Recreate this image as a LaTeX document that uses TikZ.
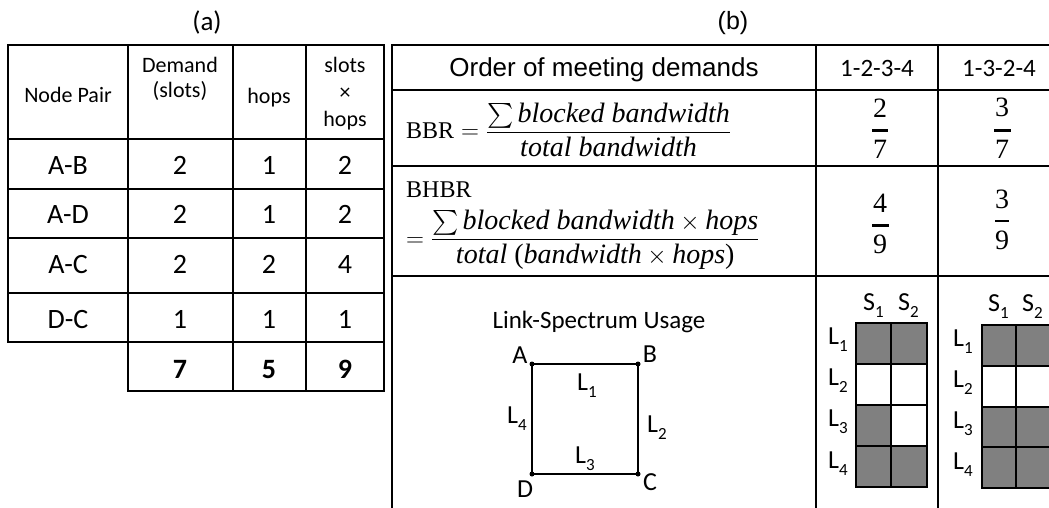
\documentclass[tikz,border=0pt]{standalone}
\usepackage{amsmath}
\usepackage{fontspec}
\setmainfont{Carlito}
\newfontfamily\arialfont{Liberation Sans}
\newfontfamily\rmser{Liberation Serif}
\newcommand\fsz[2]{\fontsize{#1}{#2}\selectfont}
\newcommand\lsub[1]{\raisebox{-0.28em}{\fsz{17}{17}#1}}
\newcommand\bw[1]{\text{\rmser\itshape #1}}
\newcommand\up[1]{\text{\rmser #1}}
\definecolor{cellgray}{RGB}{128,128,128}
\begin{document}
\begin{tikzpicture}[x=1pt,y=-1pt,
  rule/.style={line width=1.6pt, line cap=rect},
  txt/.style={inner sep=0, anchor=base},
  hdr/.style={txt, font=\fsz{22}{26}},
  dat/.style={txt, font=\fsz{28}{33}},
  tot/.style={txt, font=\fsz{28}{33}\bfseries},
  ttl/.style={txt, font=\fsz{27}{32}},
  mth/.style={inner sep=0, anchor=base west, font=\fsz{28}{33}},
  digit/.style={txt, font=\fsz{28}{33}\rmser},
  fbar/.style={line width=3pt},
  fbarthin/.style={line width=1.5pt},
  lbl/.style={txt, font=\fsz{26}{30}},
  lblw/.style={inner sep=0, anchor=base west, font=\fsz{26}{30}},
  cellbox/.style={draw, line width=1.6pt},
  used/.style={cellbox, fill=cellgray},
  free/.style={cellbox, fill=white},
  vertex/.style={circle, fill=black, inner sep=0, minimum size=5pt},
  link/.style={line width=2pt}]
\useasboundingbox (0,0) rectangle (1049,508);
\fill[white] (0,0) rectangle (1049,508);

% ---------- panel titles ----------
\node[ttl] (ta) at (207,31) {(a)};
\node[txt, font=\fsz{25}{30}\arialfont] (tb) at (733,30) {(b)};

% ---------- table (a): grid ----------
\foreach \y in {45,139,189,238,293,342}
  \draw[rule] (8,\y) -- (384,\y);
\draw[rule] (128,391) -- (384,391);
\draw[rule] (8,45) -- (8,342);
\foreach \x in {128,233,306,384}
  \draw[rule] (\x,45) -- (\x,391);

% header cells
\node[hdr] (hpair) at (68,103) {Node Pair};
\node[hdr] (hdem1) at (180,73) {Demand};
\node[hdr] (hdem2) at (180,98) {(slots)};
\node[hdr] (hhops) at (269,104) {hops};
\node[hdr] (hsh1) at (345,73) {slots};
\node[hdr] (hsh2) at (345,100) {×};
\node[hdr] (hsh3) at (345,127) {hops};

% data rows
\node[dat] (p1) at (68,175) {A-B}; \node[dat] (d1) at (180,175) {2}; \node[dat] (h1) at (269,175) {1}; \node[dat] (s1) at (345,175) {2};
\node[dat] (p2) at (68,223) {A-D}; \node[dat] (d2) at (180,223) {2}; \node[dat] (h2) at (269,223) {1}; \node[dat] (s2) at (345,223) {2};
\node[dat] (p3) at (68,273) {A-C}; \node[dat] (d3) at (180,273) {2}; \node[dat] (h3) at (269,273) {2}; \node[dat] (s3) at (345,273) {4};
\node[dat] (p4) at (68,328) {D-C}; \node[dat] (d4) at (180,328) {1}; \node[dat] (h4) at (269,328) {1}; \node[dat] (s4) at (345,328) {1};
% totals
\node[tot] (dt) at (180,378) {7};
\node[tot] (ht) at (269,378) {5};
\node[tot] (st) at (345,378) {9};

% ---------- table (b): grid ----------
\foreach \y in {45,90,166,276}
  \draw[rule] (392,\y) -- (1049,\y);
\foreach \x in {392,816,938}
  \draw[rule] (\x,45) -- (\x,508);

% header row
\node[txt, font=\fsz{26}{30}\arialfont] (order) at (604,77) {Order of meeting demands};
\node[txt, font=\fsz{25}{30}] (o1) at (877,77) {1-2-3-4};
\node[txt, font=\fsz{25}{30}] (o2) at (999,77) {1-3-2-4};

% BBR row
\node[mth] (bbr) at (406,139)
  {$\up{\fsz{24}{28}BBR}=\dfrac{\sum\bw{blocked bandwidth}}{\bw{total bandwidth}}$};
\node[digit] (bbrn1) at (880,118) {2};
\draw[fbar] (872,131) -- (888,131);
\node[digit] (bbrd1) at (880,158) {7};
\node[digit] (bbrn2) at (1002,117) {3};
\draw[fbar] (994,131) -- (1011,131);
\node[digit] (bbrd2) at (1002,158) {7};

% BHBR row
\node[mth] (bhbr) at (406,197) {\rmser\fsz{24}{28}BHBR};
\node[mth] (bhbrf) at (406,246)
  {$=\dfrac{\sum\bw{blocked bandwidth}\times\bw{hops}}{\bw{total }\up{(}\bw{bandwidth}\times\bw{hops}\up{)}}$};
\node[digit] (bhn1) at (880,212) {4};
\draw[fbar] (872,225) -- (889,225);
\node[digit] (bhd1) at (880,253) {9};
\node[digit] (bhn2) at (1002,208) {3};
\draw[fbarthin] (995,221) -- (1009,221);
\node[digit] (bhd2) at (1002,249) {9};

% ---------- link-spectrum usage ----------
\node[txt, font=\fsz{25}{30}] (lsu) at (599,328) {Link-Spectrum Usage};

\node[vertex] (nA) at (532,364) {};
\node[vertex] (nB) at (638,364) {};
\node[vertex] (nC) at (638,474) {};
\node[vertex] (nD) at (532,474) {};
\draw[link] (nA.center) -- (nB.center) -- (nC.center) -- (nD.center) -- cycle;

\node[lbl] (lA) at (520,363) {A};
\node[lbl] (lB) at (650,362) {B};
\node[lbl] (lC) at (650,490) {C};
\node[lbl] (lD) at (525,497) {D};
\node[lblw] (q1) at (577,390) {L\lsub{1}};
\node[lblw] (q2) at (647,432) {L\lsub{2}};
\node[lblw] (q3) at (575,463) {L\lsub{3}};
\node[lblw] (q4) at (507,423) {L\lsub{4}};

% spectrum grid, order 1-2-3-4
\node[lblw] (ga1) at (863,310) {S\lsub{1}};
\node[lblw] (ga2) at (898,310) {S\lsub{2}};
\node[lblw] (gl1) at (828,344) {L\lsub{1}};
\node[lblw] (gl2) at (828,385) {L\lsub{2}};
\node[lblw] (gl3) at (828,426) {L\lsub{3}};
\node[lblw] (gl4) at (828,468) {L\lsub{4}};
\draw[used] (856,323) rectangle (891,364);
\draw[used] (891,323) rectangle (927,364);
\draw[free] (856,364) rectangle (891,405);
\draw[free] (891,364) rectangle (927,405);
\draw[used] (856,405) rectangle (891,446);
\draw[free] (891,405) rectangle (927,446);
\draw[used] (856,446) rectangle (891,487);
\draw[used] (891,446) rectangle (927,487);

% spectrum grid, order 1-3-2-4
\node[lblw] (gb1) at (988,311) {S\lsub{1}};
\node[lblw] (gb2) at (1022,311) {S\lsub{2}};
\node[lblw] (hl1) at (953,346) {L\lsub{1}};
\node[lblw] (hl2) at (953,387) {L\lsub{2}};
\node[lblw] (hl3) at (953,428) {L\lsub{3}};
\node[lblw] (hl4) at (953,469) {L\lsub{4}};
\draw[used] (982,325) rectangle (1016,366);
\draw[used] (1016,325) rectangle (1051,366);
\draw[free] (982,366) rectangle (1016,407);
\draw[free] (1016,366) rectangle (1051,407);
\draw[used] (982,407) rectangle (1016,447);
\draw[used] (1016,407) rectangle (1051,447);
\draw[used] (982,447) rectangle (1016,488);
\draw[used] (1016,447) rectangle (1051,488);
\end{tikzpicture}
\end{document}
